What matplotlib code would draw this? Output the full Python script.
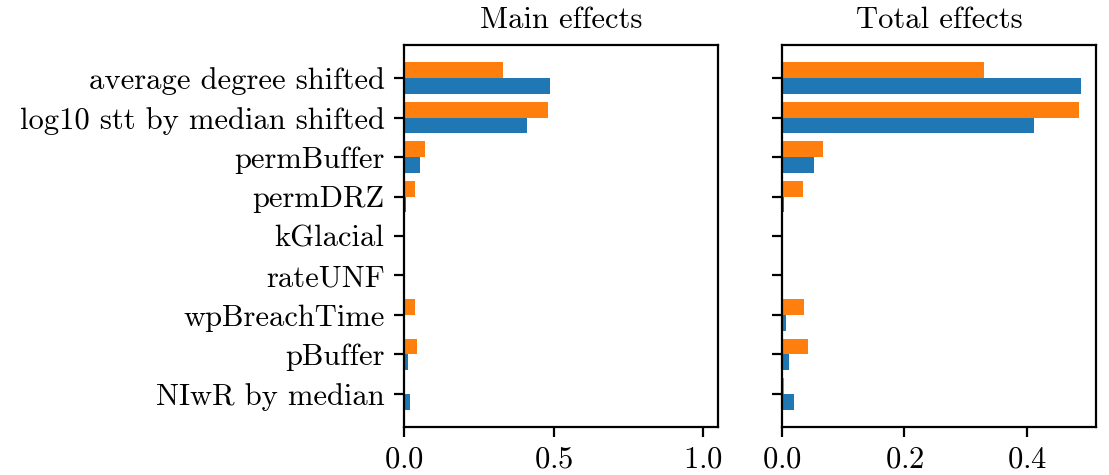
import numpy as np
import matplotlib
matplotlib.use('Agg')
import matplotlib.pyplot as plt

plt.rcParams['font.family'] = 'serif'
plt.rcParams['font.serif'] = ['cmr10']
plt.rcParams['mathtext.fontset'] = 'cm'
plt.rcParams['axes.formatter.use_mathtext'] = True
plt.rcParams['font.size'] = 11
plt.rcParams['axes.titlesize'] = 11

params = ['average degree shifted', 'log10 stt by median shifted', 'permBuffer',
          'permDRZ', 'kGlacial', 'rateUNF', 'wpBreachTime', 'pBuffer', 'NIwR by median']

# main effects
main_blue = [0.488, 0.410, 0.053, 0.005, 0.0, 0.0, 0.004, 0.013, 0.020]
main_orange = [0.330, 0.482, 0.069, 0.036, 0.0, 0.0, 0.036, 0.042, 0.0]
# total effects
total_blue = [0.488, 0.411, 0.052, 0.0044, 0.0, 0.0, 0.0065, 0.012, 0.0196]
total_orange = [0.329, 0.484, 0.0675, 0.034, 0.0, 0.0, 0.036, 0.0425, 0.003]

fig = plt.figure(figsize=(5.545, 2.375), dpi=200)
ax1 = fig.add_axes([0.3643, 0.1011, 0.2831, 0.8042])
ax2 = fig.add_axes([0.7049, 0.1011, 0.2834, 0.8042], sharey=ax1)

y = np.arange(len(params))
h = 0.4
for ax, b, o, title in [(ax1, main_blue, main_orange, 'Main effects'),
                        (ax2, total_blue, total_orange, 'Total effects')]:
    ax.barh(y + h / 2, b, height=h, color='C0')
    ax.barh(y - h / 2, o, height=h, color='C1')
    ax.set_title(title)

ax1.set_yticks(y)
ax1.set_yticklabels(params)
ax1.invert_yaxis()
ax1.set_xlim(0, 1.05)
ax1.set_xticks([0, 0.5, 1.0])
ax2.set_xticks([0, 0.2, 0.4])
ax2.tick_params(labelleft=False)

fig.savefig('out.png', dpi=200)
